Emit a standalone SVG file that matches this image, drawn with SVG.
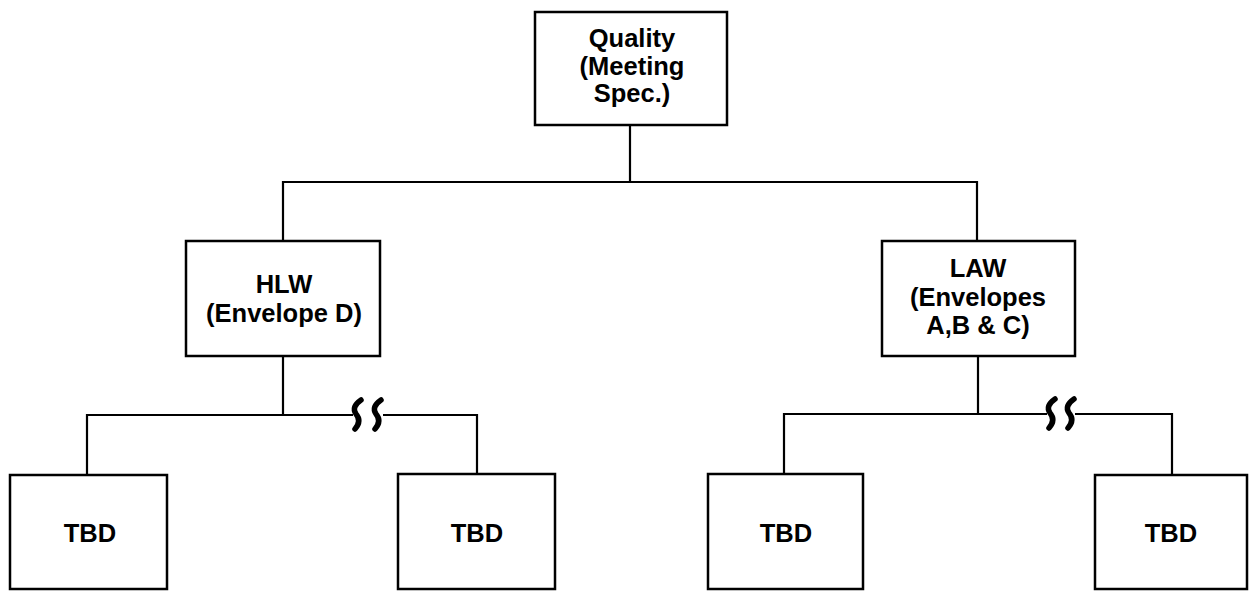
<svg xmlns="http://www.w3.org/2000/svg" width="1252" height="591" viewBox="0 0 1252 591">
<style>
.box{fill:#fff;stroke:#000;stroke-width:2.5}
.ln{fill:none;stroke:#000;stroke-width:2.2}
.brk{fill:none;stroke:#000;stroke-width:5.5;stroke-linecap:round}
text{font-family:"Liberation Sans",Arial,sans-serif;font-weight:bold;font-size:25.5px;text-anchor:middle;fill:#000}
</style>
<rect width="1252" height="591" fill="#fff"/>
<g id="connectors">
<path class="ln" d="M630 125V182M283 241V182H977V241"/>
<path class="ln" d="M283 356V415M87 475V415H353M383 415H477V475"/>
<path class="ln" d="M978 356V414M784 474V414H1047M1075 414H1172V475"/>
<path class="brk" d="M361 400Q351 407 356 414Q362 421 355 429"/>
<path class="brk" d="M381 400Q371 407 376 414Q382 421 375 429"/>
<path class="brk" d="M1055 399Q1045 406 1050 413Q1056 420 1049 428"/>
<path class="brk" d="M1074 399Q1064 406 1069 413Q1075 420 1068 428"/>
</g>
<g id="quality">
<rect class="box" x="535" y="12" width="192" height="113"/>
<text x="632" y="47">Quality</text>
<text x="632" y="75">(Meeting</text>
<text x="632" y="102">Spec.)</text>
</g>
<g id="hlw">
<rect class="box" x="186" y="241" width="194" height="115"/>
<text x="284" y="293">HLW</text>
<text x="284" y="322">(Envelope D)</text>
</g>
<g id="law">
<rect class="box" x="882" y="241" width="193" height="115"/>
<text x="978" y="277">LAW</text>
<text x="978" y="306">(Envelopes</text>
<text x="978" y="334">A,B &amp; C)</text>
</g>
<g id="tbd1">
<rect class="box" x="10" y="475" width="157" height="114"/>
<text x="90" y="542">TBD</text>
</g>
<g id="tbd2">
<rect class="box" x="398" y="474" width="157" height="115"/>
<text x="477" y="542">TBD</text>
</g>
<g id="tbd3">
<rect class="box" x="708" y="474" width="155" height="115"/>
<text x="786" y="542">TBD</text>
</g>
<g id="tbd4">
<rect class="box" x="1095" y="475" width="152" height="114"/>
<text x="1171" y="542">TBD</text>
</g>
</svg>
